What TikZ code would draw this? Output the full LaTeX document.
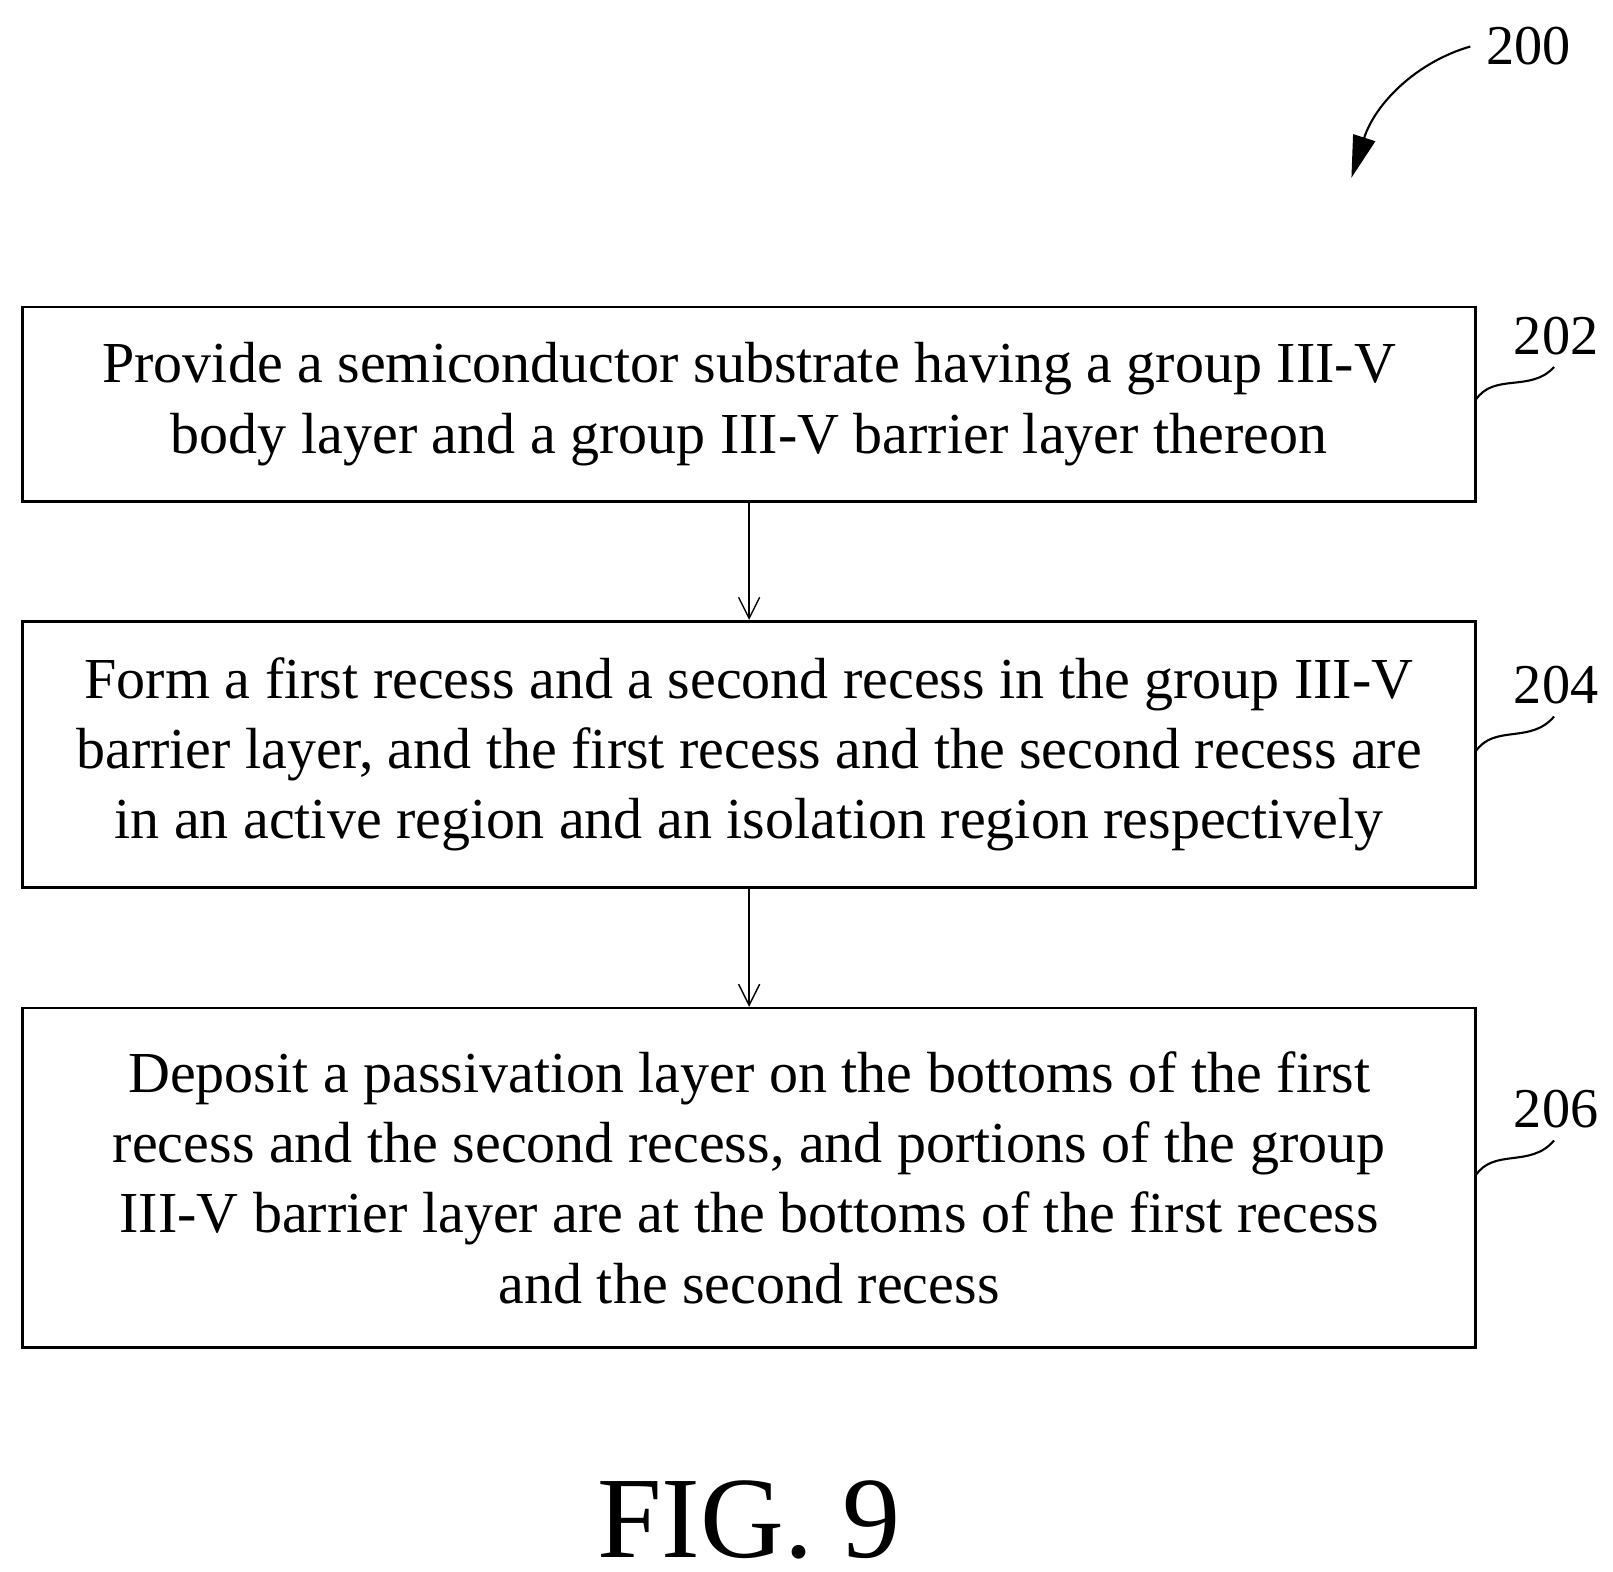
\documentclass[tikz,border=0pt]{standalone}
\usepackage{fontspec}
\setmainfont{Liberation Serif}
\usetikzlibrary{arrows.meta}
\tikzset{
  stepbox/.style={draw, line width=1.5pt, minimum width=29.06cm, align=center, inner sep=0pt,
    font=\fontsize{33}{40}\selectfont},
  ref/.style={font=\fontsize{32}{38}\selectfont},
  lead/.style={line width=1.2pt},
  flow/.style={-{Straight Barb[length=12pt,width=12pt]}, line width=0.8pt}
}
\begin{document}
\begin{tikzpicture}[x=0.02068cm,y=-0.02068cm]
  \useasboundingbox (0,0) rectangle (1560,1520);
  % steps
  \node[stepbox, minimum height=3.89cm] (s202) at (724.5,391) {Provide a semiconductor substrate having a group III-V\\body layer and a group III-V barrier layer thereon};
  \node[stepbox, minimum height=5.32cm] (s204) at (724.5,729.5) {Form a first recess and a second recess in the group III-V\\barrier layer, and the first recess and the second recess are\\in an active region and an isolation region respectively};
  \node[stepbox, minimum height=6.78cm] (s206) at (724.5,1139) {Deposit a passivation layer on the bottoms of the first\\recess and the second recess, and portions of the group\\III-V barrier layer are at the bottoms of the first recess\\and the second recess};
  \draw[flow] (s202.south) -- (s204.north);
  \draw[flow] (s204.south) -- (s206.north);
  % reference numerals
  \node[ref] (n202) at (1505,325) {202};
  \node[ref] (n204) at (1505,663) {204};
  \node[ref] (n206) at (1505,1073) {206};
  \draw[lead] (1427,387) .. controls (1445,360) and (1480,380) .. (1503,355);
  \draw[lead] (1427,727) .. controls (1445,700) and (1480,720) .. (1503,693);
  \draw[lead] (1427,1137) .. controls (1445,1110) and (1480,1130) .. (1503,1103);
  \node[ref] (n200) at (1478,45) {200};
  \draw[line width=1.2pt, -{Triangle[length=24pt,width=13pt]}] (1422,45) .. controls (1370,60) and (1330,100) .. (1307,172);
  % caption
  \node[font=\fontsize{66}{74}\selectfont] (fig) at (724,1470) {FIG. 9};
\end{tikzpicture}
\end{document}
